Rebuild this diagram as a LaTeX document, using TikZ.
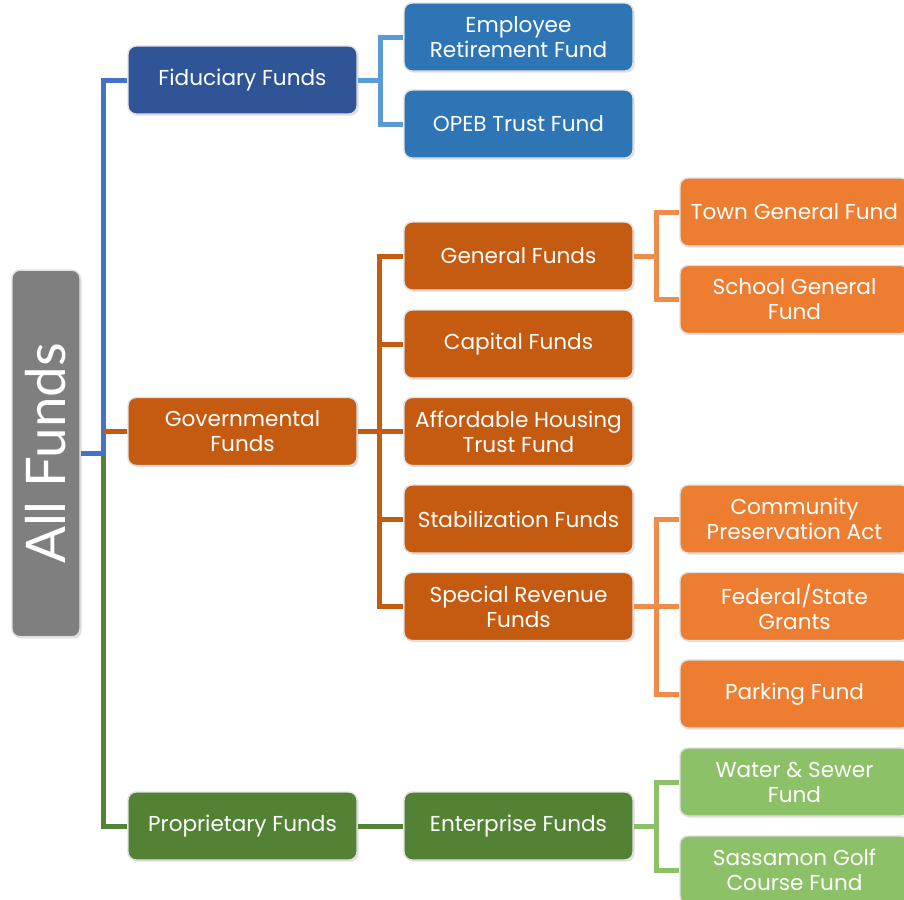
\documentclass[tikz,border=0pt]{standalone}
\usepackage{fontspec}
\setmainfont{Poppins}
\newfontfamily\bigfont{Lato}
\usetikzlibrary{shadows}
\definecolor{cGray}{HTML}{7F7F7F}
\definecolor{cFid}{HTML}{2F5597}
\definecolor{cBlue}{HTML}{2E75B6}
\definecolor{cGov}{HTML}{C55A11}
\definecolor{cOr}{HTML}{ED7D31}
\definecolor{cGrn}{HTML}{548235}
\definecolor{cLGrn}{HTML}{8CC168}
\definecolor{lBlue}{HTML}{4472C4}
\definecolor{lLBlue}{HTML}{5B9BD5}
\definecolor{lOr}{HTML}{F08C4A}
\tikzset{
  box/.style={rounded corners=6pt, draw=black!12, line width=1.1pt, text=white,
    minimum width=171.75pt, minimum height=51pt, inner sep=0pt, align=center,
    font=\fontsize{16.2}{18.75}\selectfont,
    drop shadow={opacity=0.25, shadow xshift=1.2pt, shadow yshift=-1.2pt}},
  conn/.style={line width=3.75pt},
}
\begin{document}
\begin{tikzpicture}[x=0.75pt,y=-0.75pt]
\useasboundingbox (0,0) rectangle (904,900);
\clip (0,0) rectangle (904,900);
% nodes
\node[box, fill=cGray, minimum width=51pt, minimum height=275pt] (all) at (46,453.5) {};
\node[rotate=90, text=white, font=\bigfont\fontsize{41}{42}\selectfont] (alltext) at (all.center) {All Funds};
\node[box, fill=cFid] (fid) at (242.5,80) {Fiduciary Funds};
\node[box, fill=cGov] (gov) at (242.5,431.5) {Governmental\\Funds};
\node[box, fill=cGrn] (prop) at (242.5,826) {Proprietary Funds};
\node[box, fill=cBlue] (emp) at (518.5,37) {Employee\\Retirement Fund};
\node[box, fill=cBlue] (opeb) at (518.5,124) {OPEB Trust Fund};
\node[box, fill=cGov] (gen) at (518.5,256) {General Funds};
\node[box, fill=cGov] (cap) at (518.5,344) {Capital Funds};
\node[box, fill=cGov] (aff) at (518.5,431.5) {Affordable Housing\\Trust Fund};
\node[box, fill=cGov] (stab) at (518.5,519) {Stabilization Funds};
\node[box, fill=cGov] (spec) at (518.5,606.5) {Special Revenue\\Funds};
\node[box, fill=cGrn] (ent) at (518.5,826) {Enterprise Funds};
\node[box, fill=cOr] (town) at (794.5,212) {Town General Fund};
\node[box, fill=cOr] (school) at (794.5,299.5) {School General\\Fund};
\node[box, fill=cOr] (cpa) at (794.5,519) {Community\\Preservation Act};
\node[box, fill=cOr] (fed) at (794.5,606.5) {Federal/State\\Grants};
\node[box, fill=cOr] (park) at (794.5,694) {Parking Fund};
\node[box, fill=cLGrn] (water) at (794.5,782) {Water \& Sewer\\Fund};
\node[box, fill=cLGrn] (sass) at (794.5,870) {Sassamon Golf\\Course Fund};
% junctions
\coordinate (j0) at (103,453.5);
\coordinate (j0o) at (103,431.5);
\coordinate (jf) at (380,80);
\coordinate (jg) at (379,431.5);
\coordinate (jgen) at (656,256);
\coordinate (jspec) at (656,606.5);
\coordinate (jent) at (656,826);
% connectors
\draw[conn, cGrn] (j0) |- (prop.west);
\draw[conn, lBlue] (all.east |- j0) -- (j0) |- (fid.west);
\draw[conn, cGov] (j0o) -- (gov.west);
\draw[conn, lLBlue] (fid.east) -- (jf);
\draw[conn, lLBlue] (jf) |- (emp.west);
\draw[conn, lLBlue] (jf) |- (opeb.west);
\draw[conn, cGov] (gov.east) -- (jg);
\foreach \n in {gen,cap,aff,stab,spec} \draw[conn, cGov] (jg) |- (\n.west);
\draw[conn, lOr] (gen.east) -- (jgen);
\foreach \n in {town,school} \draw[conn, lOr] (jgen) |- (\n.west);
\draw[conn, lOr] (spec.east) -- (jspec);
\foreach \n in {cpa,fed,park} \draw[conn, lOr] (jspec) |- (\n.west);
\draw[conn, cGrn] (prop.east) -- (ent.west);
\draw[conn, cLGrn] (ent.east) -- (jent);
\foreach \n in {water,sass} \draw[conn, cLGrn] (jent) |- (\n.west);
\end{tikzpicture}
\end{document}
